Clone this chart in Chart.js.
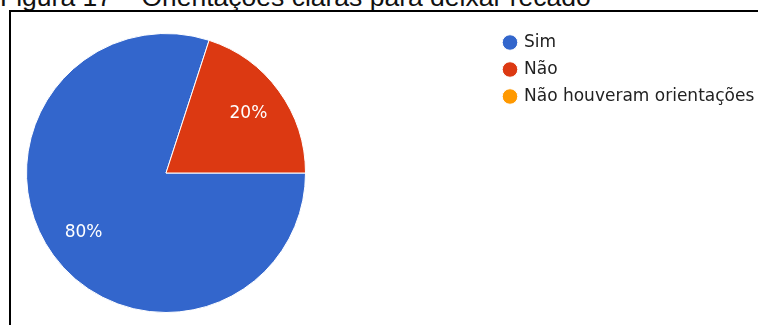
<!DOCTYPE html>
<html>
<head>
<meta charset="utf-8">
<script src="https://cdn.jsdelivr.net/npm/chart.js@4.4.1/dist/chart.umd.min.js"></script>
<style>
  html, body { margin: 0; padding: 0; background: #fff; overflow: hidden; }
  #wrap { position: relative; width: 758px; height: 325px; overflow: hidden; }
  #caption {
    position: absolute; left: 0; top: -16px;
    white-space: nowrap; font: 26.5px/26.5px "Liberation Sans", Arial, sans-serif; color: #111;
  }
  #frame {
    position: absolute; left: 9px; top: 10px; width: 900px; height: 400px;
    border: 2px solid #000; box-sizing: border-box;
  }
  #dataChart { position: absolute; left: 0; top: 0; }
</style>
</head>
<body>
<div id="wrap">
  <div id="caption">Figura 17 – Orientações claras para deixar recado</div>
  <div id="frame"></div>
  <canvas id="dataChart" width="758" height="325"></canvas>
</div>
<script>
// answers and their share of responses (%)
var categories = ['Sim', 'Não', 'Não houveram orientações'];
var values = [80, 20, 0];
var colors = ['#3366cc', '#dc3912', '#ff9900'];

// writes the percentage inside each slice
var sliceLabels = {
  id: 'sliceLabels',
  afterDatasetsDraw: function(chart) {
    var ctx = chart.ctx;
    var data = chart.data.datasets[0].data;
    var total = data.reduce(function(a, b) { return a + b; }, 0);
    ctx.save();
    ctx.fillStyle = '#ffffff';
    ctx.font = '17px "DejaVu Sans", sans-serif';
    ctx.textAlign = 'center';
    ctx.textBaseline = 'middle';
    chart.getDatasetMeta(0).data.forEach(function(arc, i) {
      if (!data[i]) return;
      var p = arc.getProps(['x', 'y', 'startAngle', 'endAngle', 'outerRadius'], true);
      var mid = (p.startAngle + p.endAngle) / 2;
      var d = p.outerRadius * 0.73;
      ctx.fillText(Math.round(data[i] / total * 100) + '%', p.x + Math.cos(mid) * d, p.y + Math.sin(mid) * d);
    });
    ctx.restore();
  }
};

// put the legend to the right of the pie, like the original
var legendSpot = {
  id: 'legendSpot',
  afterLayout: function(chart) {
    var lg = chart.legend;
    lg.left = 494.5;
    lg.top = 24;
    lg.right = lg.left + 400;
    lg.bottom = lg.top + 290;
  }
};

document.addEventListener("DOMContentLoaded", function() {
  var ctx = document.getElementById('dataChart').getContext('2d');
  var dataChart = new Chart(ctx, {
    type: 'pie',
    data: {
      labels: categories,
      datasets: [{
        data: values,
        backgroundColor: colors,
        borderColor: '#ffffff',
        borderWidth: 1
      }]
    },
    options: {
      responsive: false,
      animation: false,
      events: [],
      rotation: 90,
      layout: { padding: { left: 26, top: 33, right: 452, bottom: 12 } },
      plugins: {
        tooltip: { enabled: false },
        legend: {
          position: 'chartArea',
          align: 'start',
          labels: {
            usePointStyle: true,
            pointStyle: 'circle',
            boxWidth: 11,
            boxHeight: 11,
            padding: 10,
            color: '#222222',
            font: { family: '"DejaVu Sans", sans-serif', size: 17 }
          }
        }
      }
    },
    plugins: [sliceLabels, legendSpot]
  });
});
</script>
</body>
</html>
